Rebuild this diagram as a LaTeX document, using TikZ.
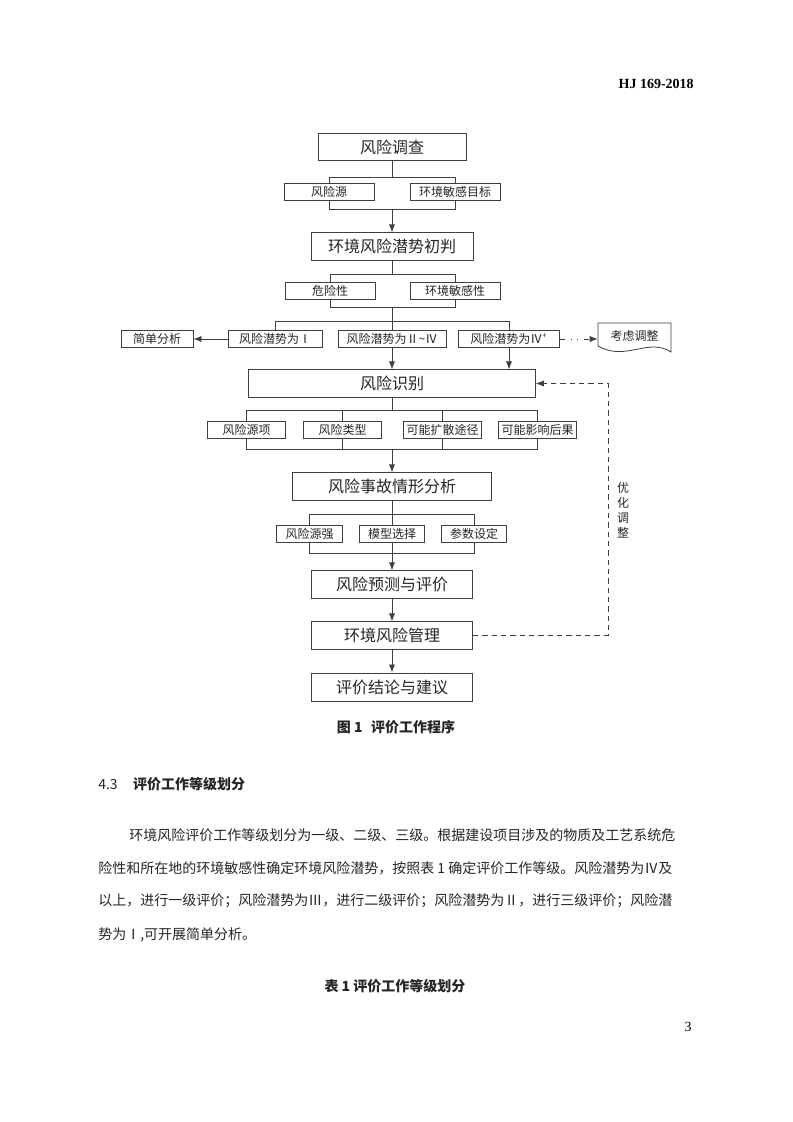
\documentclass[tikz,border=0pt]{standalone}
\usepackage{fontspec}
\setmainfont{Noto Sans CJK SC}
\newfontfamily\timesfont{Liberation Serif}
\usetikzlibrary{arrows.meta,backgrounds,calc}
\XeTeXlinebreaklocale "zh"
\XeTeXlinebreakskip=0pt plus 2pt
\definecolor{lineGray}{HTML}{3F3F3F}
\definecolor{textGray}{HTML}{262626}
\tikzset{
  kuang/.style={draw=lineGray, line width=0.7pt, fill=white, inner sep=0pt, minimum height=20.5pt, minimum width=#1, font=\fontsize{12pt}{14pt}\selectfont, text=textGray},
  xiaokuang/.style={draw=lineGray, line width=0.6pt, fill=white, inner sep=0pt, minimum height=12.75pt, minimum width=#1, font=\fontsize{9pt}{10pt}\selectfont, text=textGray},
  lian/.style={draw=lineGray, line width=0.6pt},
  jiantou/.style={lian, -{Latex[length=6pt,width=4.6pt]}},
  xuxian/.style={jiantou, dash pattern=on 4pt off 3pt},
  dianxian/.style={jiantou, dash pattern=on 4pt off 4pt on 0.8pt off 4pt on 0.8pt off 4pt},
  zhengwen/.style={anchor=west, inner sep=0pt, font=\fontsize{10.5pt}{12pt}\selectfont, text=textGray},
}

\begin{document}
\begin{tikzpicture}[x=0.75pt, y=-0.75pt]
\useasboundingbox (0,0) rectangle (793,1122);

% 页眉
\node[anchor=east, inner sep=0pt, font=\timesfont\bfseries\fontsize{10.5pt}{12pt}\selectfont] (ymei) at (694,84) {HJ 169-2018};

% 主流程
\node[kuang=111pt] (dc) at (392,147) {风险调查};
\node[xiaokuang=67.5pt] (fxy) at (329,191.5) {风险源};
\node[xiaokuang=67.5pt] (hjmb) at (455,191.5) {环境敏感目标};
\node[kuang=121.5pt] (cp) at (392,246.5) {环境风险潜势初判};
\node[xiaokuang=67.5pt] (wxx) at (330,290.5) {危险性};
\node[xiaokuang=67.5pt] (mgx) at (455,290.5) {环境敏感性};

% 风险潜势
\node[xiaokuang=54pt] (jd) at (157,339) {简单分析};
\node[xiaokuang=70.5pt] (p1) at (275,339) {风险潜势为Ⅰ};
\node[xiaokuang=81pt] (p2) at (392,339) {风险潜势为Ⅱ\textasciitilde Ⅳ};
\node[xiaokuang=76pt] (p4) at (509,339) {风险潜势为Ⅳ\textsuperscript{+}};
\node[inner sep=0pt, minimum width=54.75pt, minimum height=20pt, font=\fontsize{9pt}{10pt}\selectfont, text=textGray] (kl) at (634.5,336) {考虑调整};
\draw[lian] (598,323) -- (671,323) -- (671,352) .. controls (648,337) and (626,362) .. (598,346) -- cycle;

% 风险识别
\node[kuang=215pt] (fs) at (392,383.5) {风险识别};
\node[xiaokuang=59pt] (s1) at (246.5,429.5) {风险源项};
\node[xiaokuang=59pt] (s2) at (342.5,429.5) {风险类型};
\node[xiaokuang=59pt] (s3) at (442.5,429.5) {可能扩散途径};
\node[xiaokuang=59pt] (s4) at (537.5,429.5) {可能影响后果};

% 情形分析
\node[kuang=149pt] (sg) at (392,486.5) {风险事故情形分析};
\node[xiaokuang=49pt] (q1) at (309.5,533.5) {风险源强};
\node[xiaokuang=49pt] (q2) at (392,533.5) {模型选择};
\node[xiaokuang=49pt] (q3) at (474,533.5) {参数设定};
\node[kuang=121pt] (yc) at (392,584.5) {风险预测与评价};
\node[kuang=121pt] (gl) at (392,635.5) {环境风险管理};
\node[kuang=121pt, minimum height=21pt] (jl) at (392,687) {评价结论与建议};

\node[align=center, inner sep=0pt, font=\fontsize{9pt}{11.25pt}\selectfont, text=textGray] (yhtz) at (623,510) {优\\化\\调\\整};

% 括号线
\coordinate (g1t) at (0,177);
\coordinate (g1b) at (0,209);
\coordinate (g2t) at (0,274);
\coordinate (g2b) at (0,307);
\coordinate (g3) at (0,321);
\coordinate (g4t) at (0,410);
\coordinate (g4b) at (0,449);
\coordinate (g5t) at (0,514);
\coordinate (g5b) at (0,553);
\coordinate (fb) at (608,500);

\begin{scope}[on background layer]
\draw[lian] (dc.south) -- (dc.south |- g1t);
\draw[lian] (fxy.center |- g1t) rectangle (hjmb.center |- g1b);
\draw[lian] (cp.south) -- (cp.south |- g2t);
\draw[lian] (wxx.center |- g2t) rectangle (mgx.center |- g2b);
\draw[lian] (cp.south |- g2b) -- (cp.south |- g3);
\draw[lian] (p1.north) -- (p1.center |- g3) -- (p4.center |- g3) -- (p4.north);
\draw[lian] (p2.center |- g3) -- (p2.north);
\draw[lian] (fs.south) -- (fs.south |- g4t);
\draw[lian] (s1.center |- g4t) rectangle (s4.center |- g4b);
\foreach \n in {s2,s3}
  \draw[lian] (\n.center |- g4t) -- (\n.center |- g4b);
\draw[lian] (sg.south) -- (sg.south |- g5t);
\draw[lian] (q1.center |- g5t) rectangle (q3.center |- g5b);
\draw[lian] (q2.center |- g5t) -- (q2.center |- g5b);
\end{scope}

% 箭头
\draw[jiantou] (dc.south |- g1b) -- (cp.north);
\draw[jiantou] (p1.west) -- (jd.east);
\draw[dianxian] (p4.east) -- (p4.east -| kl.west);
\draw[jiantou] (p2.south) -- (p2.south |- fs.north);
\draw[jiantou] (p4.south) -- (p4.south |- fs.north);
\draw[jiantou] (fs.south |- g4b) -- (sg.north);
\draw[jiantou] (sg.south |- g5b) -- (yc.north);
\draw[jiantou] (yc.south) -- (gl.north);
\draw[jiantou] (gl.south) -- (jl.north);
\draw[xuxian] (gl.east) -- (gl.east -| fb) -- (fb |- fs.east) -- (fs.east);

% 图题与正文
\node[inner sep=0pt, font=\bfseries\fontsize{10.5pt}{12pt}\selectfont, text=textGray] (tuti) at (396,727) {图 1\hspace{0.6em}评价工作程序};
\node[zhengwen] (jie) at (98,784) {4.3\hspace{1.1em}{\bfseries 评价工作等级划分}};
\node[zhengwen, text width=422pt, align=justify] (h1) at (129,835) {\parfillskip=0pt 环境风险评价工作等级划分为一级、二级、三级。根据建设项目涉及的物质及工艺系统危};
\node[zhengwen, text width=445.5pt, align=justify] (h2) at (98,868) {\parfillskip=0pt 险性和所在地的环境敏感性确定环境风险潜势，按照表 1 确定评价工作等级。风险潜势为Ⅳ及};
\node[zhengwen, text width=445.5pt, align=justify] (h3) at (98,901) {\parfillskip=0pt 以上，进行一级评价；风险潜势为Ⅲ，进行二级评价；风险潜势为Ⅱ，进行三级评价；风险潜};
\node[zhengwen] (h4) at (98,935) {势为Ⅰ,可开展简单分析。};
\node[inner sep=0pt, font=\bfseries\fontsize{10.5pt}{12pt}\selectfont, text=textGray] (biaoti) at (395,986) {表 1 评价工作等级划分};

% 页码
\node[inner sep=0pt, font=\timesfont\fontsize{10.5pt}{12pt}\selectfont] (yema) at (688,1027) {3};
\end{tikzpicture}
\end{document}
